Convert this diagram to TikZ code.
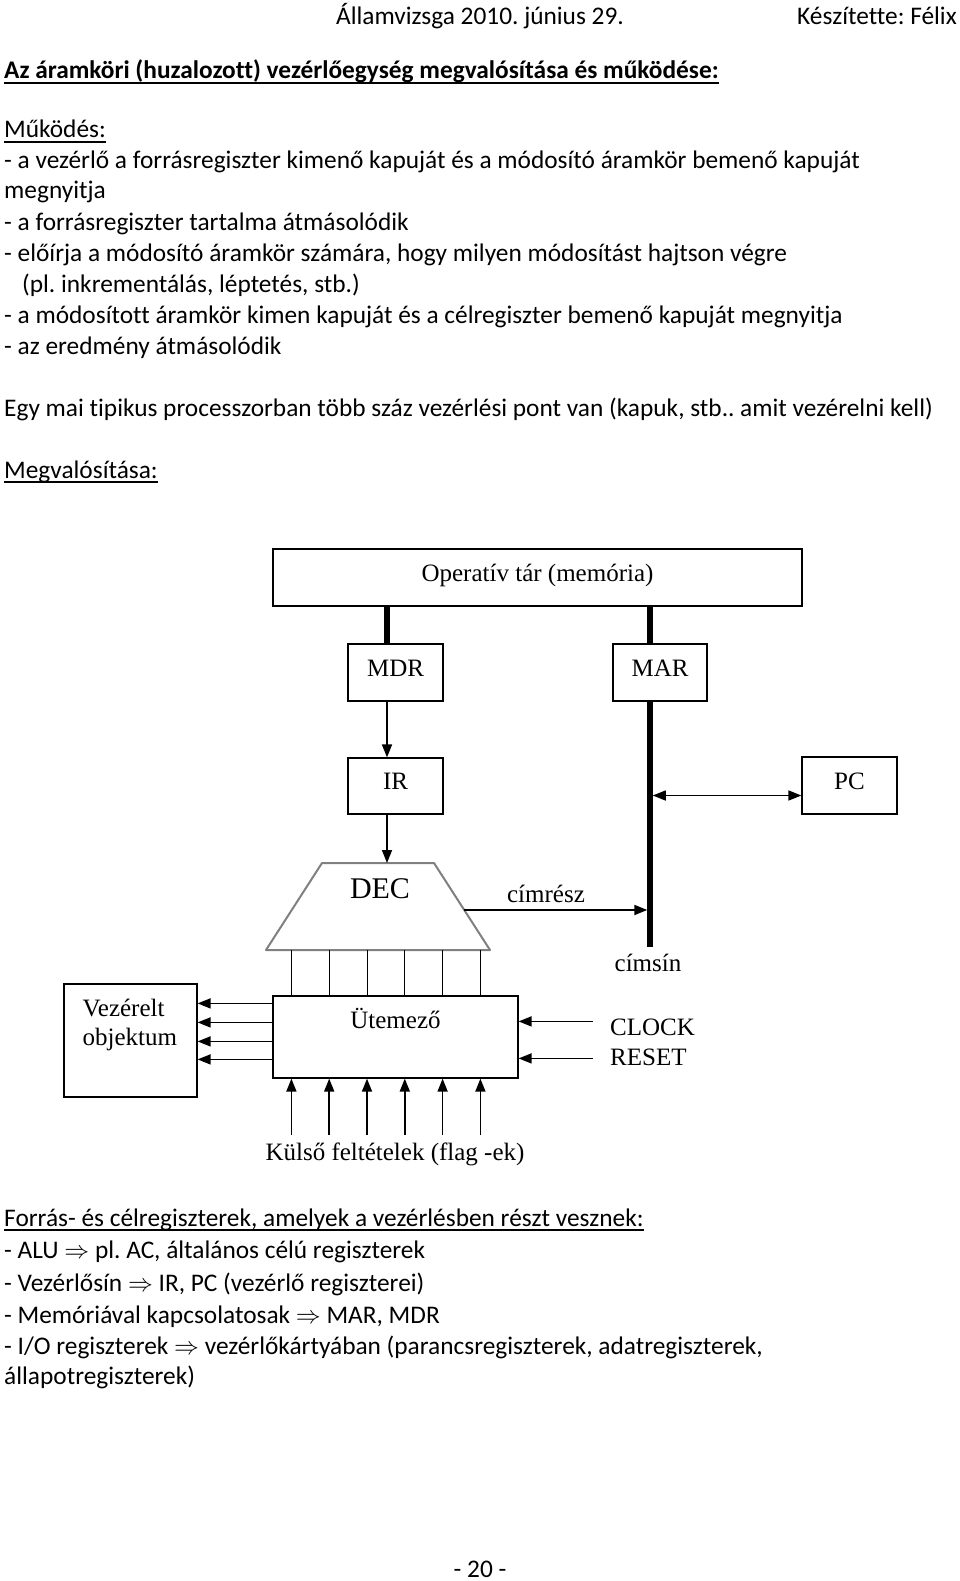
\documentclass[tikz,border=0pt]{standalone}
\usepackage{fontspec}
\setmainfont{Carlito}[Ligatures=NoCommon]
\newfontfamily\tnr{Liberation Serif}
\usetikzlibrary{arrows.meta,calc}

\newcommand\bodysize{\fontsize{25.35}{31}\selectfont}
\newcommand\diagfont{\tnr\fontsize{25}{29}\selectfont}
\frenchspacing

\tikzset{
  txt/.style={anchor=base west, inner sep=0pt, font=\bodysize},
  reg/.style={draw, line width=1.2pt, inner sep=0pt, minimum height=57pt, minimum width=95pt,
    text height=16.5pt, text depth=9pt, font=\diagfont},
  lbl/.style={font=\diagfont, inner sep=0pt},
  bus/.style={line width=5.5pt},
  arr/.style={->, line width=1.5pt},
  wire/.style={line width=1pt},
  uline/.style={line width=1.3pt},
  decbox/.style={minimum width=224pt, minimum height=87pt, inner sep=0pt, outer sep=0pt},
  decline/.style={draw=gray, line width=2pt, line join=round}
}

\begin{document}
\begin{tikzpicture}[x=1pt, y=-1pt, >={Triangle[length=13pt,width=10pt]}]
  \useasboundingbox[fill=white] (0,0) rectangle (960,1581);

  \node [txt] (head) at (336,25) {Államvizsga 2010. június 29.};
  \node [txt] (author) at (797,25) {Készítette: Félix};
  \node [txt, font=\bodysize\bfseries] (title) at (4,79) {Az áramköri (huzalozott) vezérlőegység megvalósítása és működése:};
  \draw [uline] ([yshift=-4pt]title.base west) -- ([yshift=-4pt]title.base east);
  \node [txt] (mukodes) at (4,138) {Működés:};
  \draw [uline] ([yshift=-4pt]mukodes.base west) -- ([yshift=-4pt]mukodes.base east);
  \node [txt] (m1) at (4,168) {- a vezérlő a forrásregiszter kimenő kapuját és a módosító áramkör bemenő kapuját};
  \node [txt] (m2) at (4,199) {megnyitja};
  \node [txt] (m3) at (4,230) {- a forrásregiszter tartalma átmásolódik};
  \node [txt] (m4) at (4,261) {- előírja a módosító áramkör számára, hogy milyen módosítást hajtson végre};
  \node [txt] (m5) at (22,292) {(pl. inkrementálás, léptetés, stb.)};
  \node [txt] (m6) at (4,323) {- a módosított áramkör kimen kapuját és a célregiszter bemenő kapuját megnyitja};
  \node [txt] (m7) at (4,354) {- az eredmény átmásolódik};
  \node [txt] (egy) at (4,416) {Egy mai tipikus processzorban több száz vezérlési pont van (kapuk, stb.. amit vezérelni kell)};
  \node [txt] (megval) at (4,478) {Megvalósítása:};
  \draw [uline] ([yshift=-4pt]megval.base west) -- ([yshift=-4pt]megval.base east);

  \coordinate (mdrcol) at (387,0);
  \coordinate (buscol) at (650,0);
  \node [reg, minimum width=529pt] (mem) at (537.5,577.5) {Operatív tár (memória)};
  \node [reg] (mdr) at (395.5,672.5) {MDR};
  \node [reg, minimum width=94pt] (mar) at (660,672.5) {MAR};
  \node [reg, minimum height=56pt] (ir) at (395.5,786) {IR};
  \node [reg] (pc) at (849.5,785.5) {PC};
  \node [decbox] (dec) at (378,906.5) {};
  \draw [decline] (dec.south west) -- ($(dec.north west)+(56,0)$) -- ($(dec.north east)+(-56,0)$)
    -- coordinate [pos=0.54] (decr) (dec.south east) -- cycle;
  \node [lbl, font=\tnr\fontsize{30}{30}\selectfont] (dectxt) at (380,889) {DEC};
  \node [reg, minimum width=245pt, minimum height=82pt,
    label={[lbl, anchor=north, yshift=-13pt]north:Ütemező}] (ut) at (395.5,1037) {};
  \node [reg, minimum width=133pt, minimum height=113pt,
    label={[lbl, anchor=north west, align=left, xshift=19pt, yshift=-16pt]north west:Vezérelt\\objektum}] (vez) at (130.5,1040.5) {};
  \node [lbl, anchor=base west] (clk) at (610,1035) {CLOCK};
  \node [lbl, anchor=base west] (rst) at (610,1065) {RESET};
  \node [lbl, anchor=base, inner sep=7pt] (kulso) at (395,1160) {Külső feltételek (flag -ek)};
  \coordinate (busend) at (650,947);
  \node [lbl, anchor=base] (cimsin) at (648,971) {címsín};

  \draw [bus] (mem.south -| mdrcol) -- (mdr.north -| mdrcol);
  \draw [bus] (mem.south -| buscol) -- (mar.north -| buscol);
  \draw [bus] (mar.south -| buscol) -- (busend);
  \draw [arr] (mdr.south -| mdrcol) -- (ir.north -| mdrcol);
  \draw [arr] (ir.south -| mdrcol) -- (dec.north -| mdrcol);
  \draw [arr, <->, shorten <=2.75pt] ([yshift=-10pt]pc.west -| buscol) -- ([yshift=-10pt]pc.west);
  \draw [arr, line width=2pt, shorten >=2.75pt] (decr) -- (decr -| buscol)
    node [lbl, pos=0.44, above=6pt] (cimresz) {címrész};
  \foreach \dx in {19,56.8,94.6,132.4,170.2,208} {
    \coordinate (c) at ($(ut.north west)+(\dx,0)$);
    \draw [wire] (c |- dec.south) -- (c);
    \draw [arr] (c |- kulso.north) -- (c |- ut.south);
  }
  \foreach \dy in {8,27,46,64} {
    \coordinate (c) at ($(ut.north west)+(0,\dy)$);
    \draw [arr] (c) -- (c -| vez.east);
  }
  \coordinate (c) at ($(ut.north east)+(0,26)$);
  \draw [arr, shorten <=17pt] (c -| clk.west) -- (c);
  \coordinate (c) at ($(ut.north east)+(0,63)$);
  \draw [arr, shorten <=17pt] (c -| rst.west) -- (c);

  \node [txt] (forras) at (4,1226) {Forrás- és célregiszterek, amelyek a vezérlésben részt vesznek:};
  \draw [uline] ([yshift=-4pt]forras.base west) -- ([yshift=-4pt]forras.base east);
  \node [txt] (f1) at (4,1258) {- ALU $\Rightarrow$ pl. AC, általános célú regiszterek};
  \node [txt] (f2) at (4,1291) {- Vezérlősín $\Rightarrow$ IR, PC (vezérlő regiszterei)};
  \node [txt] (f3) at (4,1323) {- Memóriával kapcsolatosak $\Rightarrow$ MAR, MDR};
  \node [txt] (f4) at (4,1354) {- I/O regiszterek $\Rightarrow$ vezérlőkártyában (parancsregiszterek, adatregiszterek,};
  \node [txt] (f5) at (4,1384) {állapotregiszterek)};
  \node [txt, anchor=base] (page) at (480,1577) {- 20 -};
\end{tikzpicture}
\end{document}
